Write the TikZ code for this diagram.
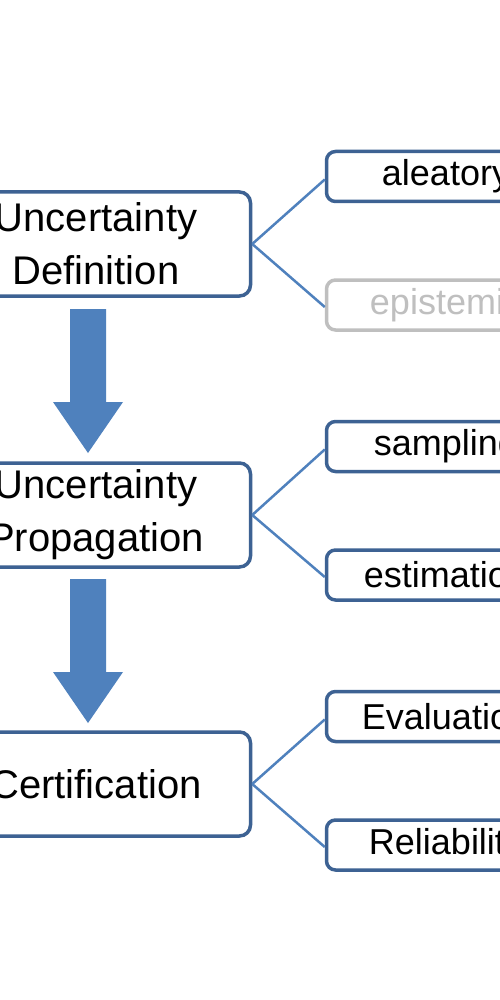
\documentclass[tikz,border=0pt]{standalone}
\usepackage{fontspec}
\setmainfont{Liberation Sans}
\usetikzlibrary{calc}
\definecolor{boxblue}{HTML}{3D6293}
\definecolor{linkblue}{HTML}{4F81BD}
\definecolor{arrowblue}{HTML}{4F81BD}
\definecolor{mutedgray}{HTML}{BFBFBF}
\tikzset{
  mainbox/.style={draw=boxblue, line width=3.5pt, rounded corners=11pt, fill=white,
    minimum width=309pt, minimum height=104pt, align=center, inner sep=0pt,
    font=\fontsize{40}{53}\selectfont},
  subbox/.style={draw=boxblue, line width=3.5pt, rounded corners=9pt, fill=white,
    minimum width=239pt, minimum height=50pt, inner sep=0pt,
    font=\fontsize{36}{40}\selectfont},
  mutedbox/.style={subbox, draw=mutedgray, text=mutedgray},
  link/.style={draw=linkblue, line width=2.5pt},
  blockarrow/.style={fill=arrowblue, draw=none}
}
\begin{document}
\begin{tikzpicture}[x=1pt,y=-1pt]
\useasboundingbox (0,0) rectangle (500,1000);
\clip (0,0) rectangle (500,1000);
\fill[white] (0,0) rectangle (500,1000);

\node[mainbox] (def) at (96,244) {Uncertainty\\Definition};
\node[mainbox] (prop) at (96,515) {Uncertainty\\Propagation};
\node[mainbox] (cert) at (96,784) {Certification};

\node[subbox] (ale) at (446,176.5) {aleatory};
\node[mutedbox] (epi) at (446,305) {epistemic};
\node[subbox] (samp) at (446,446.5) {sampling};
\node[subbox] (est) at (446,575) {estimation};
\node[subbox] (eval) at (446,716.5) {Evaluation};
\node[subbox] (rel) at (446,845) {Reliability};

\draw[link] (def.east) -- ([yshift=-3pt]ale.west);
\draw[link] (def.east) -- ([yshift=-2pt]epi.west);
\draw[link] (prop.east) -- ([yshift=-3pt]samp.west);
\draw[link] (prop.east) -- ([yshift=-2pt]est.west);
\draw[link] (cert.east) -- ([yshift=-3pt]eval.west);
\draw[link] (cert.east) -- ([yshift=-2pt]rel.west);

\coordinate (a1) at (88,309);
\coordinate (a2) at (88,579);
\foreach \c in {a1,a2}{
  \fill[blockarrow] ($(\c)+(-18,0)$) -- ($(\c)+(18,0)$) -- ($(\c)+(18,93)$)
    -- ($(\c)+(35,93)$) -- ($(\c)+(0,144)$) -- ($(\c)+(-35,93)$)
    -- ($(\c)+(-18,93)$) -- cycle;
}
\end{tikzpicture}
\end{document}
